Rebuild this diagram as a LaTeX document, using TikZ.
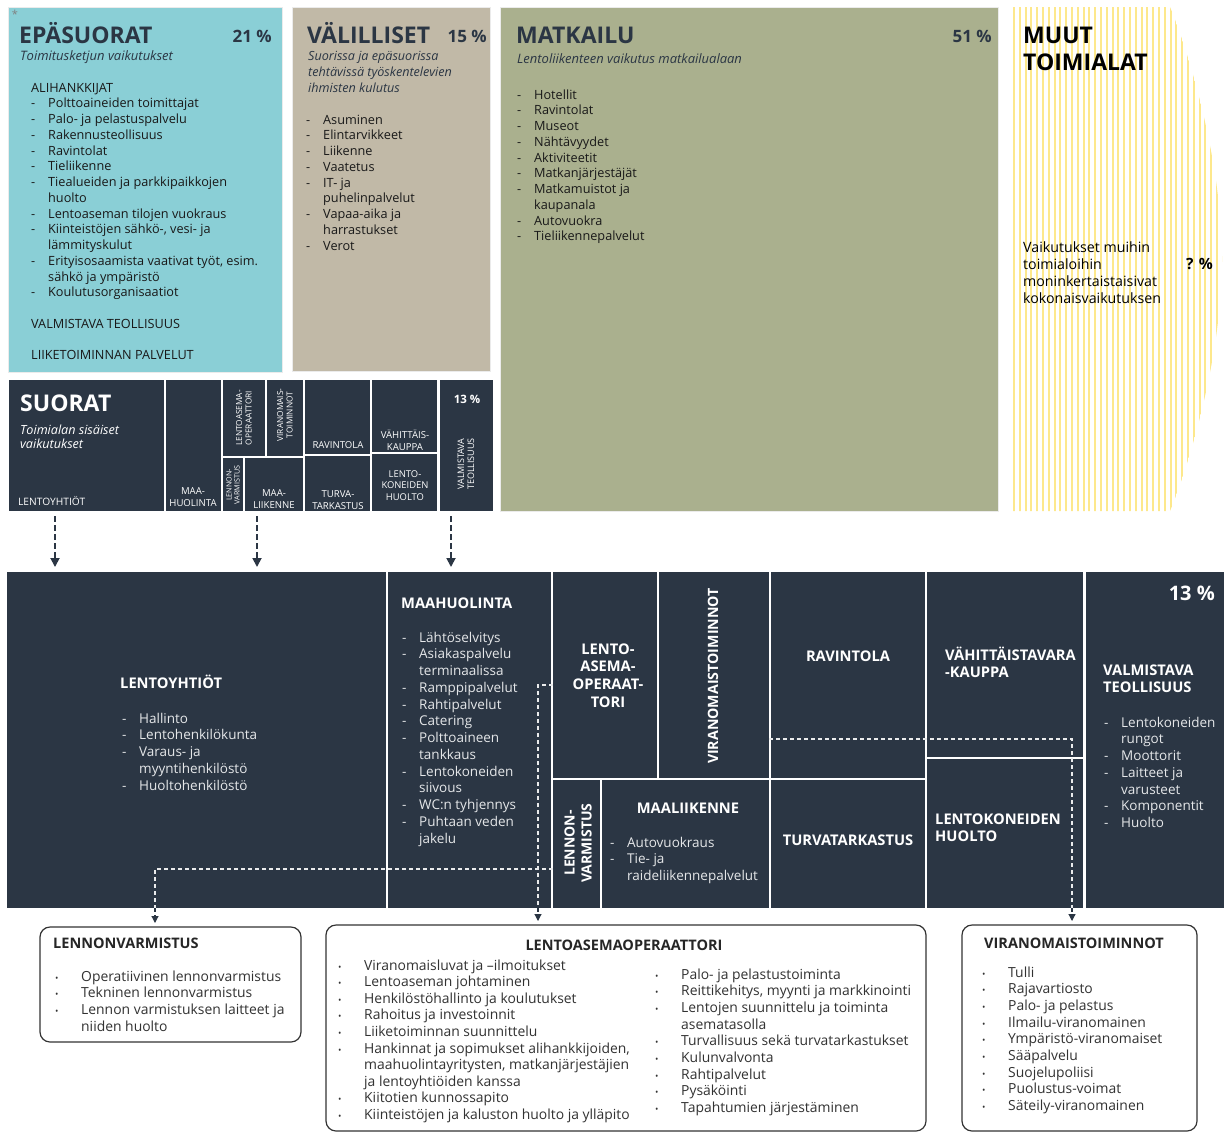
\documentclass[tikz,border=0pt]{standalone}
\usepackage{fontspec}
\setmainfont{Open Sans}
\usetikzlibrary{arrows.meta}
\definecolor{navy}{RGB}{43,54,68}
\definecolor{tealbox}{RGB}{138,207,214}
\definecolor{sandbox}{RGB}{193,185,167}
\definecolor{olivebox}{RGB}{170,176,142}
\definecolor{stripeyellow}{RGB}{253,232,140}
\definecolor{bodygray}{RGB}{50,50,50}
\newcommand{\fsz}[2]{\fontsize{#1}{#2}\selectfont}
\newcommand{\dli}{\makebox[17pt][l]{-}}
\newcommand{\cli}{\hspace*{17pt}}
\newcommand{\bli}{\makebox[26pt][l]{\fsz{9}{9}•}}
\newcommand{\lns}[1]{\begin{tabular}[t]{@{}l@{}}#1\end{tabular}}
\newcommand{\lnc}[1]{\begin{tabular}[t]{@{}c@{}}#1\end{tabular}}
\begin{document}
\begin{tikzpicture}[x=1pt, y=-1pt,
        every node/.style={inner sep=0pt},
        topbox/.style={draw=black!8, line width=0.8pt},
        dbox/.style={fill=navy},
        ttl/.style={font=\fsz{23}{27}\bfseries, text=navy, anchor=base west},
        pct/.style={font=\fsz{17}{20}\bfseries, text=navy, anchor=base east},
        sub/.style={font=\fsz{13}{16}\itshape, text=navy, anchor=base west},
        lst/.style={font=\fsz{12.7}{15.75}, text=black!90, anchor=base west},
        tiny/.style={font=\fsz{9.6}{12}, text=white},
        big/.style={font=\fsz{14.7}{17.7}\bfseries, text=white},
        wlst/.style={font=\fsz{13.5}{16.75}, text=white!88!navy, anchor=base west},
        blst/.style={font=\fsz{13.9}{16.7}, text=bodygray, anchor=base west},
        btl/.style={font=\fsz{14.5}{16}\bfseries, text=black!85},
        rbox/.style={draw=black!80, line width=1.2pt, rounded corners=10pt, fill=white},
        wdash/.style={draw=white!90!navy, line width=1.1pt, dash pattern=on 4pt off 3pt},
        ddash/.style={draw=navy, line width=1.1pt, dash pattern=on 4pt off 3pt, -{Triangle[width=7pt,length=7pt]}},
        sdash/.style={draw=navy, line width=1.8pt, dash pattern=on 6pt off 3pt, -{Triangle[width=9pt,length=9pt]}},
        stripe/.style={draw=stripeyellow, line width=2pt}]
\useasboundingbox (0,0) rectangle (1226,1133);

% Top row
\draw[topbox, fill=tealbox] (8,7) rectangle (282,372);
\draw[topbox, fill=sandbox] (292,7) rectangle (490,371);
\draw[topbox, fill=olivebox] (500,7) rectangle (998,511);
\begin{scope}
  \clip (1013,7) -- (1170,7) .. controls (1188,50) and (1222,160) .. (1222,259)
        .. controls (1222,358) and (1188,468) .. (1170,511) -- (1013,511) -- cycle;
  \foreach \k in {0,...,36} \draw[stripe] ({1014+5.8*\k},0) -- ({1014+5.8*\k},520);
\end{scope}

\node[font=\fsz{11}{11}, text=black!50] (star) at (15,14) {*};
\node[ttl] (epatitle) at (19,43) {EPÄSUORAT};
\node[pct] (epapct) at (272,42) {21 \%};
\node[sub] (epasub) at (20,60) {Toimitusketjun vaikutukset};
\node[lst] (epalist) at (31,92) {\lns{ALIHANKKIJAT\\
  \dli Polttoaineiden toimittajat\\ \dli Palo- ja pelastuspalvelu\\
  \dli Rakennusteollisuus\\ \dli Ravintolat\\ \dli Tieliikenne\\
  \dli Tiealueiden ja parkkipaikkojen\\ \cli huolto\\
  \dli Lentoaseman tilojen vuokraus\\ \dli Kiinteistöjen sähkö-, vesi- ja\\ \cli lämmityskulut\\
  \dli Erityisosaamista vaativat työt, esim.\\ \cli sähkö ja ympäristö\\
  \dli Koulutusorganisaatiot\\[15.75pt]
  VALMISTAVA TEOLLISUUS\\[15.75pt]
  LIIKETOIMINNAN PALVELUT}};

\node[ttl] (valtitle) at (307,43) {VÄLILLISET};
\node[pct] (valpct) at (487,42) {15 \%};
\node[sub, font=\fsz{12.6}{16}\itshape] (valsub) at (308,60) {\lns{Suorissa ja epäsuorissa\\ tehtävissä työskentelevien\\ ihmisten kulutus}};
\node[lst] (vallist) at (306,124) {\lns{\dli Asuminen\\ \dli Elintarvikkeet\\ \dli Liikenne\\ \dli Vaatetus\\
  \dli IT- ja\\ \cli puhelinpalvelut\\ \dli Vapaa-aika ja\\ \cli harrastukset\\ \dli Verot}};

\node[ttl] (mattitle) at (516,43) {MATKAILU};
\node[pct] (matpct) at (992,42) {51 \%};
\node[sub] (matsub) at (517,63) {Lentoliikenteen vaikutus matkailualaan};
\node[lst] (matlist) at (517,99) {\lns{\dli Hotellit\\ \dli Ravintolat\\ \dli Museot\\ \dli Nähtävyydet\\
  \dli Aktiviteetit\\ \dli Matkanjärjestäjät\\ \dli Matkamuistot ja\\ \cli kaupanala\\
  \dli Autovuokra\\ \dli Tieliikennepalvelut}};

\node[ttl, text=black] (muutitle) at (1023,43) {\lns{MUUT\\ TOIMIALAT}};
\node[lst, font=\fsz{14.2}{17.3}, text=black] (muutext) at (1023,252) {\lns{Vaikutukset muihin\\ toimialoihin\\ moninkertaistaisivat\\ kokonaisvaikutuksen}};
\node[pct, font=\fsz{15.5}{18}\bfseries, text=black] (muupct) at (1213,269) {? \%};

% Direct effects, small
\fill[dbox] (9,380) rectangle (164,511);
\fill[dbox] (166,380) rectangle (221,511);
\fill[dbox] (223,380) rectangle (265,456);
\fill[dbox] (267,380) rectangle (303,456);
\fill[dbox] (223,458) rectangle (243,511);
\fill[dbox] (245,458) rectangle (303,511);
\fill[dbox] (305,380) rectangle (370,454);
\fill[dbox] (305,456) rectangle (370,511);
\fill[dbox] (372,380) rectangle (437,452);
\fill[dbox] (372,454) rectangle (437,511);
\fill[dbox] (440,380) rectangle (493,511);

\node[ttl, text=white] (suortitle) at (20,411) {SUORAT};
\node[sub, text=white, font=\fsz{12.6}{14.5}\itshape] (suorsub) at (20,434) {\lns{Toimialan sisäiset\\ vaikutukset}};
\node[tiny, anchor=base west, font=\fsz{10.2}{12}] (s1) at (18,505) {LENTOYHTIÖT};
\node[tiny, anchor=base] (s2) at (193,494) {\lnc{MAA-\\ HUOLINTA}};
\node[tiny, font=\fsz{8.3}{9.5}, rotate=90, align=center] (s3) at (244,418) {LENTOASEMA-\\ OPERAATTORI};
\node[tiny, font=\fsz{8.3}{9.5}, rotate=90, align=center] (s4) at (285,415) {VIRANOMAIS-\\ TOIMINNOT};
\node[tiny, font=\fsz{7.2}{8}, rotate=90, align=center] (s5) at (233,485) {LENNON-\\ VARMISTUS};
\node[tiny, anchor=base] (s6) at (274,496) {\lnc{MAA-\\ LIIKENNE}};
\node[tiny, anchor=base] (s7) at (338,448) {RAVINTOLA};
\node[tiny, anchor=base] (s8) at (338,497) {\lnc{TURVA-\\ TARKASTUS}};
\node[tiny, anchor=base] (s9) at (405,438) {\lnc{VÄHITTÄIS-\\ KAUPPA}};
\node[tiny, anchor=base, font=\fsz{9.4}{11.5}] (s10) at (405,477) {\lnc{LENTO-\\ KONEIDEN\\ HUOLTO}};
\node[font=\fsz{11.5}{11}\bfseries, text=white, anchor=base] (s11) at (467,403) {13 \%};
\node[tiny, font=\fsz{9}{10}, rotate=90, align=center] (s12) at (466,464) {VALMISTAVA\\ TEOLLISUUS};

\coordinate (a1s) at (55,516);  \coordinate (a1e) at (55,567);
\coordinate (a2s) at (257,516); \coordinate (a2e) at (257,567);
\coordinate (a3s) at (451,516); \coordinate (a3e) at (451,567);
\draw[sdash] (a1s) -- (a1e);
\draw[sdash] (a2s) -- (a2e);
\draw[sdash] (a3s) -- (a3e);

% Direct effects, large
\fill[dbox] (7,572) rectangle (386,908);
\fill[dbox] (388,572) rectangle (551,908);
\fill[dbox] (553,572) rectangle (657,778);
\fill[dbox] (659,572) rectangle (769,778);
\fill[dbox] (553,780) rectangle (600,908);
\fill[dbox] (602,780) rectangle (769,908);
\fill[dbox] (771,572) rectangle (925,778);
\fill[dbox] (771,780) rectangle (925,908);
\fill[dbox] (927,572) rectangle (1083,757);
\fill[dbox] (927,759) rectangle (1083,908);
\fill[dbox] (1086,572) rectangle (1224,908);

\node[big, anchor=base west] (lyt) at (120,688) {LENTOYHTIÖT};
\node[wlst] (lytlist) at (122,723) {\lns{\dli Hallinto\\ \dli Lentohenkilökunta\\ \dli Varaus- ja\\ \cli myyntihenkilöstö\\ \dli Huoltohenkilöstö}};
\node[big, anchor=base west] (mh) at (401,608) {MAAHUOLINTA};
\node[wlst] (mhlist) at (402,642) {\lns{\dli Lähtöselvitys\\ \dli Asiakaspalvelu\\ \cli terminaalissa\\
  \dli Ramppipalvelut\\ \dli Rahtipalvelut\\ \dli Catering\\ \dli Polttoaineen\\ \cli tankkaus\\
  \dli Lentokoneiden\\ \cli siivous\\ \dli WC:n tyhjennys\\ \dli Puhtaan veden\\ \cli jakelu}};
\node[big, anchor=base] (lao) at (608,654) {\lnc{LENTO-\\ ASEMA-\\ OPERAAT-\\ TORI}};
\node[big, font=\fsz{14.2}{16}\bfseries, rotate=90] (vir) at (713,676) {VIRANOMAISTOIMINNOT};
\node[big, font=\fsz{14}{17}\bfseries, rotate=90, align=center] (lv) at (578,843) {LENNON-\\ VARMISTUS};
\node[big, anchor=base] (ml) at (688,813) {MAALIIKENNE};
\node[wlst] (mllist) at (610,847) {\lns{\dli Autovuokraus\\ \dli Tie- ja\\ \cli raideliikennepalvelut}};
\node[big, anchor=base] (rav) at (848,661) {RAVINTOLA};
\node[big, anchor=base] (tt) at (848,845) {TURVATARKASTUS};
\node[big, anchor=base west] (vk) at (945,660) {\lns{VÄHITTÄISTAVARA\\ -KAUPPA}};
\node[big, anchor=base west] (lkh) at (935,824) {\lns{LENTOKONEIDEN\\ HUOLTO}};
\node[font=\fsz{20}{20}\bfseries, text=white, anchor=base east] (vtpct) at (1215,600) {13 \%};
\node[big, anchor=base west] (vt) at (1103,675) {\lns{VALMISTAVA\\ TEOLLISUUS}};
\node[wlst] (vtlist) at (1104,727) {\lns{\dli Lentokoneiden\\ \cli rungot\\ \dli Moottorit\\ \dli Laitteet ja\\ \cli varusteet\\ \dli Komponentit\\ \dli Huolto}};

% Dashed links down to the detail boxes
\coordinate (lvs) at (553,869); \coordinate (lvc) at (155,869); \coordinate (lvb) at (155,908); \coordinate (lve) at (155,923);
\coordinate (las) at (553,685); \coordinate (lac) at (538,685); \coordinate (lab) at (538,908); \coordinate (lae) at (538,921);
\coordinate (vis) at (769,739); \coordinate (vic) at (1072,739); \coordinate (vib) at (1072,908); \coordinate (vie) at (1072,921);
\draw[wdash] (lvs) -- (lvc) -- (lvb);
\draw[ddash] (lvb) -- (lve);
\draw[wdash] (las) -- (lac) -- (lab);
\draw[ddash] (lab) -- (lae);
\draw[wdash] (vis) -- (vic) -- (vib);
\draw[ddash] (vib) -- (vie);

% Detail boxes
\draw[rbox] (40,927) rectangle (301,1042);
\draw[rbox] (326,925) rectangle (926,1131);
\draw[rbox] (962,925) rectangle (1197,1131);

\node[btl, anchor=base west] (lvtitle) at (53,948) {LENNONVARMISTUS};
\node[blst] (lvlist) at (55,981) {\lns{\bli Operatiivinen lennonvarmistus\\ \bli Tekninen lennonvarmistus\\
  \bli Lennon varmistuksen laitteet ja\\ \hspace*{26pt}niiden huolto}};
\node[btl, anchor=base] (latitle) at (624,950) {LENTOASEMAOPERAATTORI};
\node[blst, font=\fsz{13.9}{16.6}] (lalist) at (338,970) {\lns{\bli Viranomaisluvat ja –ilmoitukset\\ \bli Lentoaseman johtaminen\\
  \bli Henkilöstöhallinto ja koulutukset\\ \bli Rahoitus ja investoinnit\\ \bli Liiketoiminnan suunnittelu\\
  \bli Hankinnat ja sopimukset alihankkijoiden,\\ \hspace*{26pt}maahuolintayritysten, matkanjärjestäjien\\
  \hspace*{26pt}ja lentoyhtiöiden kanssa\\ \bli Kiitotien kunnossapito\\ \bli Kiinteistöjen ja kaluston huolto ja ylläpito}};
\node[blst] (lalist2) at (655,979) {\lns{\bli Palo- ja pelastustoiminta\\ \bli Reittikehitys, myynti ja markkinointi\\
  \bli Lentojen suunnittelu ja toiminta\\ \hspace*{26pt}asematasolla\\ \bli Turvallisuus sekä turvatarkastukset\\
  \bli Kulunvalvonta\\ \bli Rahtipalvelut\\ \bli Pysäköinti\\ \bli Tapahtumien järjestäminen}};
\node[btl, anchor=base] (vititle) at (1074,948) {VIRANOMAISTOIMINNOT};
\node[blst] (vilist) at (982,977) {\lns{\bli Tulli\\ \bli Rajavartiosto\\ \bli Palo- ja pelastus\\ \bli Ilmailu-viranomainen\\
  \bli Ympäristö-viranomaiset\\ \bli Sääpalvelu\\ \bli Suojelupoliisi\\ \bli Puolustus-voimat\\ \bli Säteily-viranomainen}};
\end{tikzpicture}
\end{document}
